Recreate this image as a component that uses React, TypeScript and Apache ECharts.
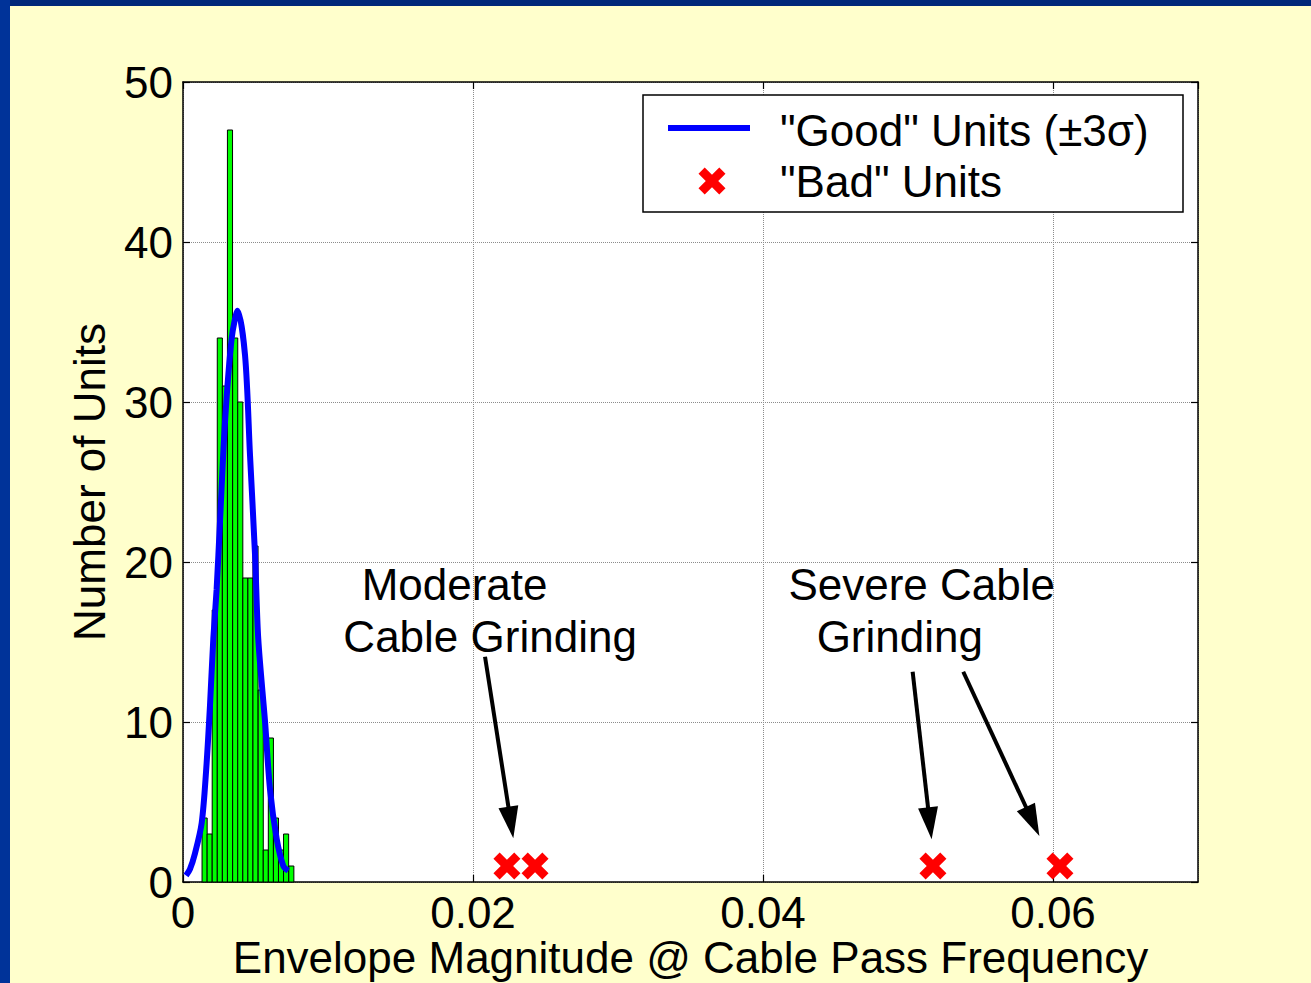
import React, { useEffect, useRef } from "react";
import * as echarts from "echarts";

const FONT = 'Arial, "Liberation Sans", Helvetica, sans-serif';

// Histogram of "good" units
const binCenters = [0.00149, 0.00184, 0.00219, 0.00254, 0.00289, 0.00324, 0.0036, 0.00395, 0.0043, 0.00465, 0.005, 0.00536, 0.00571, 0.00606, 0.00641, 0.00676, 0.00711, 0.00747];
const binCounts = [4, 3, 17, 34, 31, 47, 34, 30, 19, 19, 21, 12, 2, 9, 4, 2, 3, 1];
const BIN_W = 0.000352;

// Fitted normal curve (±3σ)
const curveX = [0.00021, 0.00048, 0.00083, 0.00129, 0.00159, 0.00186, 0.00209, 0.00232, 0.00255, 0.0029, 0.00336, 0.00377, 0.00428, 0.00462, 0.00497, 0.00519, 0.00566, 0.006, 0.00646, 0.00692, 0.00726];
const curveY = [0.4, 0.8, 1.8, 3.7, 6.9, 11.0, 15.2, 18.3, 22.5, 28.8, 34.0, 35.7, 32.9, 26.7, 20.4, 15.2, 10.0, 5.8, 2.7, 1.0, 0.7];

// "Bad" units
const badX = [0.02234, 0.02428, 0.05172, 0.06048];
const badY = [1, 1, 1, 1];

// Annotations
const annotationTexts = ["Moderate", "Cable Grinding", "Severe Cable", "Grinding"];
const annotationX = [0.01232, 0.01106, 0.04175, 0.0437];
const annotationY = [18.59, 15.36, 18.59, 15.34];

// Arrows: start (x,y) -> tip (x,y)
const arrowStartX = [0.02083, 0.05032, 0.05381];
const arrowStartY = [14.08, 13.14, 13.14];
const arrowEndX = [0.02278, 0.05163, 0.05906];
const arrowEndY = [2.73, 2.67, 2.875];

const xTicks = { min: 0, max: 0.07, interval: 0.02 };
const yTicks = { min: 0, max: 50, interval: 10 };

const legendNames = ['"Good" Units (\u00B13\u03C3)', '"Bad" Units'];

const X_PTS = [[0, 4.6], [4.6, 0], [10, 5.4], [15.4, 0], [20, 4.6], [14.6, 10], [20, 15.4], [15.4, 20], [10, 14.6], [4.6, 20], [0, 15.4], [5.4, 10]];
const X_PATH = "path://" + X_PTS.map((p, i) => (i === 0 ? "M" : "L") + p[0] + "," + p[1]).join("") + "Z";

export default function App() {
  const ref = useRef<HTMLDivElement>(null);

  useEffect(() => {
    if (!ref.current) return;
    const chart = echarts.init(ref.current, undefined, { renderer: "svg" });

    const axisCommon = {
      type: "value",
      axisLine: { show: true, onZero: false, lineStyle: { color: "#000", width: 1.5 } },
      axisTick: { show: true, inside: true, length: 7, lineStyle: { color: "#000", width: 1.2 } },
    };

    const legendX = X_PTS.map(([x, y]) => [712 + (x - 10) * 1.35, 181 + (y - 10) * 1.35]);

    chart.setOption({
      animation: false,
      backgroundColor: "#FFFFCC",
      grid: {
        left: 183,
        top: 82,
        width: 1015,
        height: 800,
        show: true,
        backgroundColor: "#FFFFFF",
        borderWidth: 0,
        containLabel: false,
        outerBoundsMode: "none",
      },
      xAxis: [
        {
          ...axisCommon,
          position: "bottom",
          min: xTicks.min,
          max: xTicks.max,
          interval: xTicks.interval,
          axisLabel: { fontSize: 44, lineHeight: 40, color: "#000", fontFamily: FONT, margin: 10, showMaxLabel: false },
          splitLine: { show: true, lineStyle: { color: "#8c8c8c", type: "dotted", width: 1 } },
          name: "Envelope Magnitude @ Cable Pass Frequency",
          nameLocation: "middle",
          nameGap: 55,
          nameMoveOverlap: false,
          nameTextStyle: { fontSize: 44, color: "#000", fontFamily: FONT, lineHeight: 40 },
        },
        {
          ...axisCommon,
          position: "top",
          min: xTicks.min,
          max: xTicks.max,
          interval: xTicks.interval,
          axisLabel: { show: false },
          splitLine: { show: false },
        },
      ],
      yAxis: [
        {
          ...axisCommon,
          position: "left",
          min: yTicks.min,
          max: yTicks.max,
          interval: yTicks.interval,
          axisLabel: { fontSize: 44, color: "#000", fontFamily: FONT, margin: 10 },
          splitLine: { show: true, lineStyle: { color: "#8c8c8c", type: "dotted", width: 1 } },
          name: "Number of Units",
          nameLocation: "middle",
          nameGap: 72,
          nameMoveOverlap: false,
          nameTextStyle: { fontSize: 44, color: "#000", fontFamily: FONT },
        },
        {
          ...axisCommon,
          position: "right",
          min: yTicks.min,
          max: yTicks.max,
          interval: yTicks.interval,
          axisLabel: { show: false },
          splitLine: { show: false },
        },
      ],
      series: [
        {
          type: "custom",
          name: "hist",
          z: 2,
          xAxisIndex: 0,
          yAxisIndex: 0,
          encode: { x: 0, y: 1 },
          data: binCenters.map((c, i) => [c, binCounts[i]]),
          renderItem: (params: any, api: any) => {
            const c = api.value(0);
            const h = api.value(1);
            const tl = api.coord([c - BIN_W / 2, h]);
            const br = api.coord([c + BIN_W / 2, 0]);
            return {
              type: "rect",
              shape: { x: tl[0], y: tl[1], width: br[0] - tl[0], height: br[1] - tl[1] },
              style: { fill: "#00FF00", stroke: "#000", lineWidth: 1 },
            };
          },
        },
        {
          type: "line",
          name: legendNames[0],
          z: 3,
          data: curveX.map((x, i) => [x, curveY[i]]),
          symbol: "none",
          smooth: 0.3,
          lineStyle: { color: "#0000FF", width: 6 },
          itemStyle: { color: "#0000FF" },
        },
        {
          type: "scatter",
          name: legendNames[1],
          z: 4,
          data: badX.map((x, i) => [x, badY[i]]),
          symbol: X_PATH,
          symbolSize: 27,
          itemStyle: { color: "#FF0000", opacity: 1 },
        },
        {
          type: "custom",
          name: "arrows",
          z: 5,
          encode: { x: [0, 2], y: [1, 3] },
          data: arrowStartX.map((x, i) => [x, arrowStartY[i], arrowEndX[i], arrowEndY[i]]),
          renderItem: (params: any, api: any) => {
            const p0 = api.coord([api.value(0), api.value(1)]);
            const p1 = api.coord([api.value(2), api.value(3)]);
            const dx = p1[0] - p0[0];
            const dy = p1[1] - p0[1];
            const len = Math.hypot(dx, dy);
            const ux = dx / len;
            const uy = dy / len;
            const hl = 32;
            const hw = 10;
            const bx = p1[0] - ux * hl;
            const by = p1[1] - uy * hl;
            return {
              type: "group",
              children: [
                {
                  type: "line",
                  shape: { x1: p0[0], y1: p0[1], x2: bx + ux * 2, y2: by + uy * 2 },
                  style: { stroke: "#000", lineWidth: 4 },
                },
                {
                  type: "polygon",
                  shape: {
                    points: [
                      [p1[0], p1[1]],
                      [bx - uy * hw, by + ux * hw],
                      [bx + uy * hw, by - ux * hw],
                    ],
                  },
                  style: { fill: "#000" },
                },
              ],
            };
          },
        },
        {
          type: "custom",
          name: "annotations",
          z: 5,
          encode: { x: 0, y: 1 },
          data: annotationX.map((x, i) => [x, annotationY[i], i]),
          renderItem: (params: any, api: any) => {
            const p = api.coord([api.value(0), api.value(1)]);
            return {
              type: "text",
              x: p[0],
              y: p[1],
              style: {
                text: annotationTexts[api.value(2)],
                fontSize: 44,
                fontFamily: FONT,
                fill: "#000",
                align: "left",
                verticalAlign: "middle",
              },
            };
          },
        },
      ],
      graphic: [
        { type: "rect", shape: { x: 0, y: 0, width: 1311, height: 6 }, style: { fill: "#00287A" }, z: 100 },
        { type: "rect", shape: { x: 0, y: 0, width: 10, height: 983 }, style: { fill: "#003399" }, z: 100 },
        {
          type: "rect",
          shape: { x: 643, y: 95, width: 540, height: 117 },
          style: { fill: "#FFFFFF", stroke: "#000", lineWidth: 1.5 },
          z: 100,
        },
        {
          type: "line",
          shape: { x1: 668, y1: 128, x2: 750, y2: 128 },
          style: { stroke: "#0000FF", lineWidth: 6 },
          z: 101,
        },
        {
          type: "text",
          x: 780,
          y: 130,
          style: { text: legendNames[0], fontSize: 44, fontFamily: FONT, fill: "#000", align: "left", verticalAlign: "middle" },
          z: 101,
        },
        {
          type: "polygon",
          shape: { points: legendX },
          style: { fill: "#FF0000" },
          z: 101,
        },
        {
          type: "text",
          x: 780,
          y: 181,
          style: { text: legendNames[1], fontSize: 44, fontFamily: FONT, fill: "#000", align: "left", verticalAlign: "middle" },
          z: 101,
        },
      ],
    });

    return () => chart.dispose();
  }, []);

  return (
    <div
      ref={ref}
      style={{ position: "absolute", left: 0, top: 0, width: 1311, height: 983 }}
    />
  );
}
